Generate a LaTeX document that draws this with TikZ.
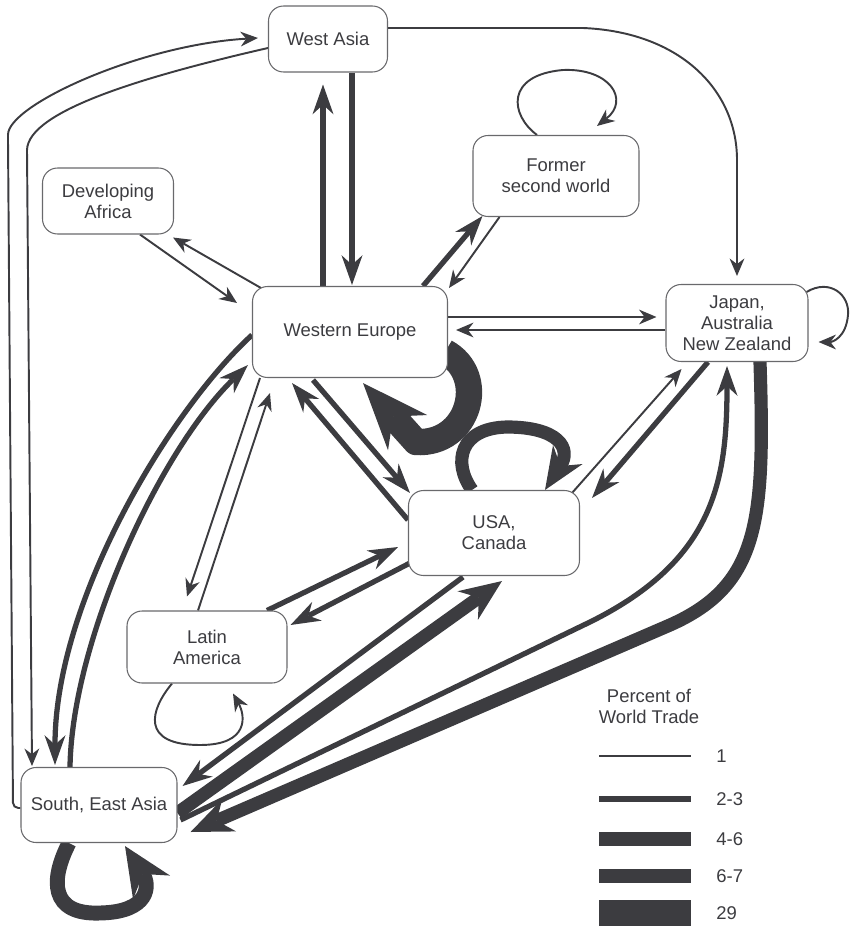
\documentclass[tikz,border=0pt]{standalone}
\usepackage{fontspec}
\setmainfont{Liberation Sans}
\usepackage{tikz}
\usetikzlibrary{arrows.meta, calc, backgrounds}

\definecolor{inkgray}{RGB}{60,60,64}
\definecolor{boxgray}{RGB}{105,105,108}

\begin{document}
\begin{tikzpicture}[x=0.02cm, y=-0.02cm, font=\fontsize{10.5}{12}\selectfont,
    region/.style = {draw=boxgray, line width=0.6pt, rounded corners=0.3cm, fill=white, align=center, text=inkgray, inner sep=0pt},
    keytext/.style = {text=inkgray, inner sep=0pt},
    flow1/.style = {line width=1.1pt, draw=inkgray, -{Stealth[length=10pt, width=8.5pt, line width=0pt]}},
    flow2/.style = {line width=3pt, draw=inkgray, -{Stealth[length=17pt, width=12pt, line width=0pt]}},
    flow4/.style = {line width=7.5pt, draw=inkgray, -{Stealth[length=24pt, width=20pt, line width=0pt]}},
    flow6/.style = {line width=8.5pt, draw=inkgray, -{Stealth[length=28pt, width=25pt, line width=0pt]}},
    flow29/.style = {line width=15pt, draw=inkgray, line join=round, -{Stealth[length=38pt, width=30pt, line width=0pt]}}]
    \useasboundingbox (0,0) rectangle (852,926);

    % Regions
    \node [region, minimum width=2.38cm, minimum height=1.32cm] (wasia) at (328,39) {West Asia};
    \node [region, minimum width=2.62cm, minimum height=1.32cm] (africa) at (108,201) {Developing\\Africa};
    \node [region, minimum width=3.32cm, minimum height=1.62cm] (second) at (556,176) {Former\\second world};
    \node [region, minimum width=3.9cm, minimum height=1.82cm] (weurope) at (350,332) {Western Europe};
    \node [region, minimum width=2.84cm, minimum height=1.54cm] (japan) at (737,323) {Japan,\\Australia\\New Zealand};
    \node [region, minimum width=3.42cm, minimum height=1.7cm] (usa) at (494,533) {USA,\\Canada};
    \node [region, minimum width=3.2cm, minimum height=1.44cm] (latin) at (207,647) {Latin\\America};
    \node [region, minimum width=3.12cm, minimum height=1.5cm] (seasia) at (99,805) {South, East Asia};

    \begin{scope}[on background layer]
    % West Asia
    \draw [flow1, rounded corners=3pt] ($(seasia.west)+(0,3)$) -- (13,808) -- (8,140) .. controls (8,105) and (140,45) .. ($(wasia.west)+(-10,-1)$);
    \draw [flow1] ($(wasia.west)+(0,9)$) .. controls (150,75) and (28,110) .. (27,150) -- ($(seasia.north)+(-67,-1)$);
    \draw [flow1] ($(wasia.east)+(0,-11)$) -- (583,28) .. controls (680,32) and (737,90) .. (737,160) -- ($(japan.north)+(0,-8)$);
    \draw [flow2] ($(weurope.north)+(-27,0)$) -- ($(wasia.south)+(-5,12)$);
    \draw [flow2] ($(wasia.south)+(24,0)$) -- ($(weurope.north)+(2,-1)$);

    % Africa, former second world
    \draw [flow1] ($(africa.south)+(32,0)$) -- ($(weurope.west)+(-15,-29)$);
    \draw [flow1] ($(weurope.north west)+(9,2)$) -- ($(africa.south east)+(-1,3)$);
    \draw [flow2] ($(weurope.north)+(73,0)$) -- ($(second.south west)+(10,-1)$);
    \draw [flow1] ($(second.south west)+(27,0)$) -- ($(weurope.north east)+(1,2)$);
    \draw [flow1] ($(second.north)+(-19,0)$) .. controls (510,115) and (505,75) .. (563,70) .. controls (610,68) and (630,100) .. ($(second.north)+(41,-9)$);

    % Japan
    \draw [flow1] ($(weurope.east)+(0,-15)$) -- ($(japan.west)+(-9,-6)$);
    \draw [flow1] ($(japan.west)+(0,7)$) -- ($(weurope.east)+(8,-2)$);
    \draw [flow1] ($(japan.north east)+(-2,8)$) .. controls (830,278) and (850,295) .. (848,315) .. controls (846,338) and (832,342) .. ($(japan.east)+(10,19)$);

    % Western Europe to itself
    \draw [flow29] ($(weurope.east)+(-3,20)$) .. controls (488,375) and (470,445) .. (416,442) -- ($(weurope.south)+(13,5)$);

    % USA
    \draw [flow4] ($(usa.north)+(-22,0)$) .. controls (452,462) and (460,428) .. (507,427) .. controls (558,427) and (572,448) .. ($(usa.north)+(51,0)$);
    \draw [flow2] ($(weurope.south)+(-37,2)$) -- ($(usa.north west)+(2,3)$);
    \draw [flow2] ($(usa.west)+(0,-13)$) -- ($(weurope.south)+(-58,5)$);
    \draw [flow1] ($(usa.north east)+(-8,3)$) -- ($(japan.south west)+(16,7)$);
    \draw [flow2] ($(japan.south)+(-29,0)$) -- ($(usa.north east)+(12,8)$);

    % Latin America
    \draw [flow1] ($(weurope.south west)+(8,0)$) -- ($(latin.north)+(-20,-14)$);
    \draw [flow1] ($(latin.north)+(-9,0)$) -- ($(weurope.south west)+(18,15)$);
    \draw [flow2] ($(latin.north)+(60,0)$) -- ($(usa.west)+(-10,14)$);
    \draw [flow2] ($(usa.west)+(2,30)$) -- ($(latin.east)+(3,-22)$);
    \draw [flow1] ($(latin.south)+(-35,0)$) .. controls (150,710) and (140,745) .. (200,745) .. controls (250,745) and (245,715) .. ($(latin.south)+(26,10)$);

    % South, East Asia
    \draw [flow2] ($(weurope.west)+(0,3)$) .. controls (170,410) and (55,600) .. ($(seasia.north)+(-44,-2)$);
    \draw [flow2] ($(seasia.north)+(-29,0)$) .. controls (72,640) and (160,450) .. ($(weurope.west)+(-4,33)$);
    \draw [flow2] ($(seasia.east)+(3,15)$) -- (590,622) .. controls (715,560) and (727,480) .. ($(japan.south)+(-10,4)$);
    \draw [flow4] ($(japan.south)+(23,0)$) .. controls (765,520) and (760,585) .. (670,625) -- ($(seasia.east)+(13,27)$);
    \draw [flow2] ($(usa.south)+(-31,1)$) -- ($(seasia.east)+(5,-19)$);
    \draw [flow4] ($(seasia.east)+(0,8)$) -- ($(usa.south)+(8,5)$);
    \draw [flow6] ($(seasia.south)+(-30,0)$) .. controls (50,880) and (50,915) .. (100,913) .. controls (150,912) and (150,885) .. ($(seasia.south)+(26,3)$);
    \end{scope}

    % Key
    \node [keytext, align=center] (keytitle) at (649,706) {Percent of\\World Trade};
    \foreach \lab/\ypos/\lw [count=\k] in {1/756/1.1pt, 2-3/799/3pt, 4-6/839/7.5pt, 6-7/876/8.5pt, 29/913/15pt} {
        \node [keytext, anchor=west] (key\k) at (716,\ypos) {\lab};
        \draw [draw=inkgray, line width=\lw] ($(key\k.west)+(-117,0)$) -- ++(92,0);
    }
\end{tikzpicture}
\end{document}
